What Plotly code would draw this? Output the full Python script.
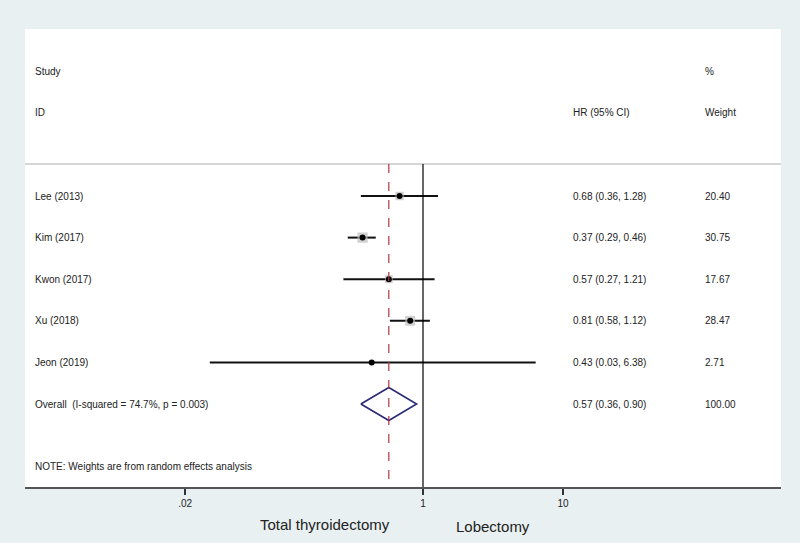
import math
import plotly.graph_objects as go

studies = ["Lee (2013)", "Kim (2017)", "Kwon (2017)", "Xu (2018)", "Jeon (2019)"]
hr = [0.68, 0.37, 0.57, 0.81, 0.43]
lo = [0.36, 0.29, 0.27, 0.58, 0.03]
hi = [1.28, 0.46, 1.21, 1.12, 6.38]
weights = [20.40, 30.75, 17.67, 28.47, 2.71]
overall_label = "Overall  (I-squared = 74.7%, p = 0.003)"
overall = [0.57, 0.36, 0.90]
overall_weight = 100.00
tick_vals = [0.02, 1, 10]
tick_text = [".02", "1", "10"]

W, H = 800, 543
L, R, T, B = 25, 19, 29, 56
step = 41.6
row0_px = 196
ytop = (T - row0_px) / step
ybot = (H - B - row0_px) / step
hdr = (164 - row0_px) / step

font = "Liberation Sans, Arial, sans-serif"
txtc = "#222222"
bg = "#e8f0f2"
rows = list(range(len(studies)))
orow = len(studies)

fig = go.Figure()
# CI lines
for i in rows:
    fig.add_trace(go.Scatter(x=[lo[i], hi[i]], y=[i, i], mode="lines",
                             line=dict(color="#111111", width=2), showlegend=False, hoverinfo="skip"))
# weight squares
fig.add_trace(go.Scatter(x=hr, y=rows, mode="markers",
                         marker=dict(symbol="square", color="#bdbdbd",
                                     size=[1.85 * math.sqrt(w) for w in weights], line=dict(width=0)),
                         showlegend=False, hoverinfo="skip"))
# point estimates
fig.add_trace(go.Scatter(x=hr, y=rows, mode="markers",
                         marker=dict(symbol="circle", color="#000000", size=6),
                         showlegend=False))
# diamond
h = 16.5 / step
fig.add_trace(go.Scatter(x=[overall[1], overall[0], overall[2], overall[0], overall[1]],
                         y=[orow, orow - h, orow, orow + h, orow], mode="lines",
                         line=dict(color="#2a2a78", width=1.6), showlegend=False))

shapes = [
    dict(type="line", xref="paper", yref="y", x0=0, x1=1, y0=hdr, y1=hdr,
         line=dict(color="#c8c8c8", width=1.5)),
    dict(type="line", xref="x", yref="y", x0=1, x1=1, y0=hdr, y1=ybot,
         line=dict(color="#000000", width=1.2)),
    dict(type="line", xref="x", yref="y", x0=overall[0], x1=overall[0], y0=hdr, y1=ybot,
         line=dict(color="#b0383f", width=1.2, dash="dash")),
]

ann = []
def txt(x, y, s, size=10, xref="paper", yref="y", xanchor="left", color=txtc):
    ann.append(dict(x=x, y=y, text=s, xref=xref, yref=yref, xanchor=xanchor, yanchor="middle",
                    showarrow=False, font=dict(family=font, size=size, color=color)))

pw = W - L - R
lx = (33 - L) / pw
hx = (571 - L) / pw
wx = (703 - L) / pw
txt(lx, -3, "Study")
txt(lx, -2, "ID")
txt(wx, -3, "%")
txt(hx, -2, "HR (95% CI)")
txt(wx, -2, "Weight")
for i in rows:
    txt(lx, i, studies[i])
    txt(hx, i, f"{hr[i]:.2f} ({lo[i]:.2f}, {hi[i]:.2f})")
    txt(wx, i, f"{weights[i]:.2f}")
txt(lx, orow, overall_label)
txt(hx, orow, f"{overall[0]:.2f} ({overall[1]:.2f}, {overall[2]:.2f})")
txt(wx, orow, f"{overall_weight:.2f}")
txt(lx, (466 - row0_px) / step, "NOTE: Weights are from random effects analysis")

ph = H - T - B
txt((324.5 - L) / pw, (H - B - 524) / ph, "Total thyroidectomy", size=15, yref="paper",
    xanchor="center", color="#222222")
txt((493.5 - L) / pw, (H - B - 526) / ph, "Lobectomy", size=15, yref="paper",
    xanchor="center", color="#222222")

xmin = math.log10(1) - (423 - L) / 140
xmax = math.log10(1) + (W - R - 423) / 140

fig.update_layout(
    width=W, height=H, margin=dict(l=L, r=R, t=T, b=B),
    paper_bgcolor=bg, plot_bgcolor="#ffffff",
    shapes=shapes, annotations=ann, showlegend=False,
    xaxis=dict(type="log", range=[xmin, xmax], tickvals=tick_vals, ticktext=tick_text,
               ticks="outside", ticklen=6, tickwidth=1.5, tickcolor="#333333",
               showline=True, linecolor="#555555", linewidth=2, showgrid=False, zeroline=False,
               tickfont=dict(family=font, size=10, color=txtc), fixedrange=True),
    yaxis=dict(range=[ybot, ytop], visible=False, showgrid=False, zeroline=False, fixedrange=True),
)
fig.write_html("out.html", config={"displayModeBar": False},
               post_script="document.body.style.margin='0';document.body.style.background='%s';"
                           "document.body.style.overflow='hidden';" % bg)
